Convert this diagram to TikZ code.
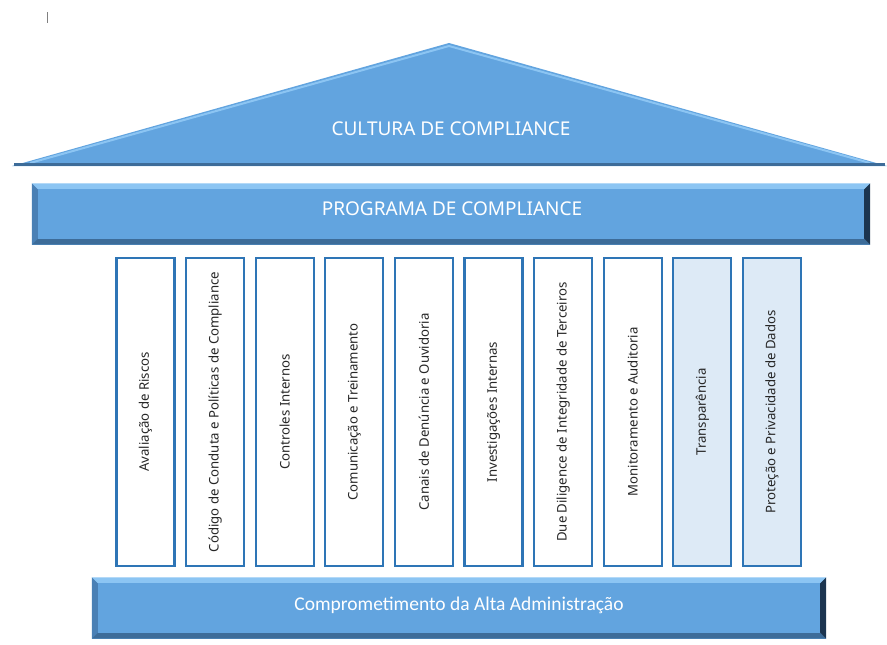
\documentclass[tikz,border=0pt]{standalone}
\usepackage{fontspec}
\setmainfont{Noto Sans}
\newfontfamily\calibri{Carlito}
\definecolor{pilarblue}{HTML}{62A4DF}
\definecolor{pilaredge}{HTML}{2E75B6}
\definecolor{pilarlight}{HTML}{DDEAF6}
\definecolor{bevtopc}{HTML}{8CC5F3}
\definecolor{bevleftc}{HTML}{4A80B5}
\definecolor{bevbotc}{HTML}{3D6C99}
\definecolor{bevrightc}{HTML}{1C3550}
\definecolor{pilartext}{HTML}{262626}
\tikzset{
  band/.style={fill=pilarblue, minimum width=#1, minimum height=61, inner sep=0pt, text=white},
  pilar/.style={draw=pilaredge, line width=2.3pt, fill=white, minimum width=308, minimum height=58, inner sep=0pt, rotate=90, text=pilartext, font=\fontsize{13.2}{15}\selectfont},
  pilarb/.style={pilar, fill=pilarlight}
}
% faces of the raised band
\newcommand{\bevelband}[1]{%
  \fill[bevtopc] (#1.north west) -- (#1.north east) -- ([xshift=-6pt,yshift=-6pt]#1.north east) -- ([xshift=6pt,yshift=-6pt]#1.north west) -- cycle;
  \fill[bevleftc] (#1.north west) -- ([xshift=6pt,yshift=-6pt]#1.north west) -- ([xshift=6pt,yshift=6pt]#1.south west) -- (#1.south west) -- cycle;
  \fill[bevbotc] (#1.south west) -- ([xshift=6pt,yshift=6pt]#1.south west) -- ([xshift=-6pt,yshift=6pt]#1.south east) -- (#1.south east) -- cycle;
  \fill[bevrightc] (#1.north east) -- ([xshift=-6pt,yshift=-6pt]#1.north east) -- ([xshift=-6pt,yshift=6pt]#1.south east) -- (#1.south east) -- cycle;
  \fill[pilarblue] ([xshift=6pt,yshift=-6pt]#1.north west) rectangle ([xshift=-6pt,yshift=6pt]#1.south east);
}
\begin{document}
\begin{tikzpicture}[x=1pt,y=-1pt]
\useasboundingbox (0,0) rectangle (887,645);
\draw[gray, line width=1pt] (47,12) -- (47,23);

% telhado
\fill[pilarblue] (12,166) -- (449,43) -- (887,166) -- cycle;
\draw[bevtopc, line width=2pt] (30,163) -- (449,46) -- (870,163);
\draw[bevbotc, line width=3pt] (14,164.5) -- (885,164.5);
\node[text=white, font=\fontsize{19}{22}\selectfont] (cultura) at (451,129) {CULTURA DE COMPLIANCE};

% programa
\node[band=838] (programa) at (451,214) {};
\bevelband{programa}
\node[text=white, font=\fontsize{19}{22}\selectfont] (programatxt) at (452,209) {PROGRAMA DE COMPLIANCE};

% pilares
\foreach \i/\txt in {0/Avaliação de Riscos, 1/Código de Conduta e Políticas de Compliance, 2/Controles Internos, 3/Comunicação e Treinamento, 4/Canais de Denúncia e Ouvidoria, 5/Investigações Internas, 6/Due Diligence de Integridade de Terceiros, 7/Monitoramento e Auditoria}
  \node[pilar] (col\i) at (145.5+69.6*\i,412) {\txt};
\node[pilarb] (col8) at (145.5+69.6*8,412) {Transparência};
\node[pilarb] (col9) at (145.5+69.6*9,412) {Proteção e Privacidade de Dados};

% base
\node[band=734] (base) at (459,608) {};
\bevelband{base}
\node[text=white, font=\calibri\fontsize{19.5}{22}\selectfont] (basetxt) at (459,605) {Comprometimento da Alta Administração};
\end{tikzpicture}
\end{document}
